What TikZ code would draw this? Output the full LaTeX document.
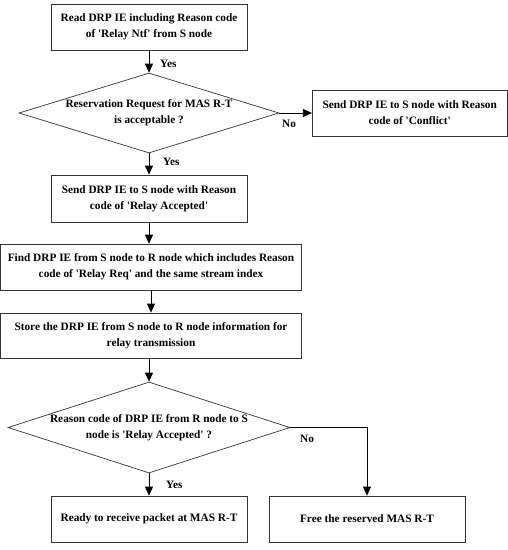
\documentclass[tikz,border=0pt]{standalone}
\usepackage{fontspec}
\setmainfont{Liberation Serif}
\usetikzlibrary{shapes.geometric,arrows.meta}
\begin{document}
\begin{tikzpicture}[x=1pt,y=-1pt,
  font=\bfseries\fontsize{11.3}{16}\selectfont,
  box/.style={draw=black!80,line width=0.7pt,rectangle,inner sep=0pt,align=center},
  dia/.style={draw=black!80,line width=0.7pt,diamond,inner sep=0pt},
  arr/.style={draw=black,line width=0.8pt,-{Triangle[length=9pt,width=8pt]}},
  lbl/.style={inner sep=0pt,anchor=west}]
\useasboundingbox (0,0) rectangle (508,550);
\node[box,minimum width=196pt,minimum height=46pt] (b1) at (149,27) {Read DRP IE including Reason code\\of \textquotesingle Relay Ntf\textquotesingle\ from S node};
\node[dia,minimum width=260pt,minimum height=80pt,label={[align=center]center:Reservation Request for MAS R-T\\is acceptable ?}] (d1) at (149,113) {};
\node[box,minimum width=195pt,minimum height=46pt] (cf) at (409.75,113) {Send DRP IE to S node with Reason\\code of \textquotesingle Conflict\textquotesingle};
\node[box,minimum width=196pt,minimum height=47pt] (b2) at (149,198.5) {Send DRP IE to S node with Reason\\code of \textquotesingle Relay Accepted\textquotesingle};
\node[box,minimum width=301pt,minimum height=46pt] (b3) at (151,267) {Find DRP IE from S node to R node which includes Reason\\code of \textquotesingle Relay Req\textquotesingle\ and the same stream index};
\node[box,minimum width=301pt,minimum height=45pt] (b4) at (151,335.5) {Store the DRP IE from S node to R node information for\\relay transmission};
\node[dia,minimum width=282pt,minimum height=91pt,label={[align=center]center:Reason code of DRP IE from R node to S\\node is \textquotesingle Relay Accepted\textquotesingle\ ?}] (d2) at (149,427.5) {};
\node[box,minimum width=196pt,minimum height=46pt] (b5) at (149,519) {Ready to receive packet at MAS R-T};
\node[box,minimum width=196pt,minimum height=46pt] (b6) at (367,519) {Free the reserved MAS R-T};
\coordinate (c1) at (367,427.5);
\draw[arr] (b1) -- (d1);
\draw[arr] (d1) -- (cf);
\draw[arr] (d1) -- (b2);
\draw[arr] (b2.south) -- (b2.south |- b3.north);
\draw[arr] (b3.south) -- (b3.south |- b4.north);
\draw[arr] (b4.south -| d2.north) -- (d2.north);
\draw[arr] (d2) -- (b5);
\draw[arr] (d2.east) -- (c1) -- (b6);
\node[lbl] at (160,64) {Yes};
\node[lbl] at (282,124) {No};
\node[lbl] at (163,162) {Yes};
\node[lbl] at (300,439) {No};
\node[lbl] at (166,485) {Yes};
\end{tikzpicture}
\end{document}
